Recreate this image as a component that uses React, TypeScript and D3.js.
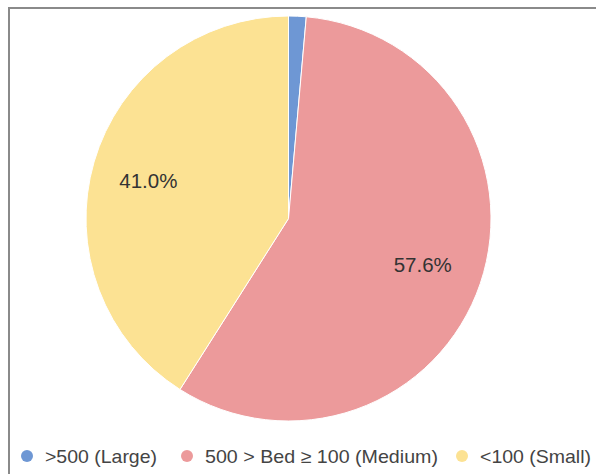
import React from "react";
import * as d3 from "d3";

const categories = [">500 (Large)", "500 > Bed \u2265 100 (Medium)", "<100 (Small)"];
const shares = [1.4, 57.6, 41.0];
const colors = ["#6e97d4", "#ec9a9b", "#fce293"];
const labelShown = [false, true, true];

const W = 596;
const H = 474;
const cx = 288.5;
const cy = 218.5;
const radius = 202.5;

// legend layout: marker centre and rendered text width per entry
const legendX = [27, 187, 462];
const legendTextW = [112, 233, 111];
const legendY = 456;

export default function App() {
  const pie = d3.pie<number>().sort(null).value((d) => d);
  const arcs = pie(shares);
  const arc = d3.arc<d3.PieArcDatum<number>>().innerRadius(0).outerRadius(radius);
  const labelArc = d3
    .arc<d3.PieArcDatum<number>>()
    .innerRadius(radius * 0.7)
    .outerRadius(radius * 0.7);

  return (
    <svg
      width={W}
      height={H}
      style={{ position: "absolute", left: 0, top: 0, background: "#fff" }}
      fontFamily="'Liberation Sans', Arial, sans-serif"
    >
      <rect x={0} y={0} width={W} height={H} fill="#ffffff" />
      <line x1={9} y1={8} x2={W} y2={8} stroke="#8a8a8a" strokeWidth={2} />
      <line x1={9} y1={7} x2={9} y2={H} stroke="#8a8a8a" strokeWidth={2} />
      <g transform={`translate(${cx},${cy})`}>
        {arcs.map((a, i) => (
          <path key={i} d={arc(a) ?? ""} fill={colors[i]} stroke="#ffffff" strokeWidth={1} />
        ))}
        {arcs.map((a, i) => {
          if (!labelShown[i]) return null;
          const [lx, ly] = labelArc.centroid(a);
          return (
            <text
              key={`l${i}`}
              x={lx - (i === 2 ? 4 : 0)}
              y={ly + (i === 2 ? 2 : 1)}
              textAnchor="middle"
              dominantBaseline="central"
              fontSize={20.5}
              fill="#333333"
            >
              {shares[i].toFixed(1)}%
            </text>
          );
        })}
      </g>
      {categories.map((c, i) => (
        <g key={`g${i}`}>
          <circle cx={legendX[i]} cy={legendY} r={6} fill={colors[i]} />
          <text
            x={legendX[i] + 18}
            y={legendY}
            dominantBaseline="central"
            fontSize={18.5}
            fill="#444444"
            textLength={legendTextW[i]}
            lengthAdjust="spacingAndGlyphs"
          >
            {c}
          </text>
        </g>
      ))}
    </svg>
  );
}
